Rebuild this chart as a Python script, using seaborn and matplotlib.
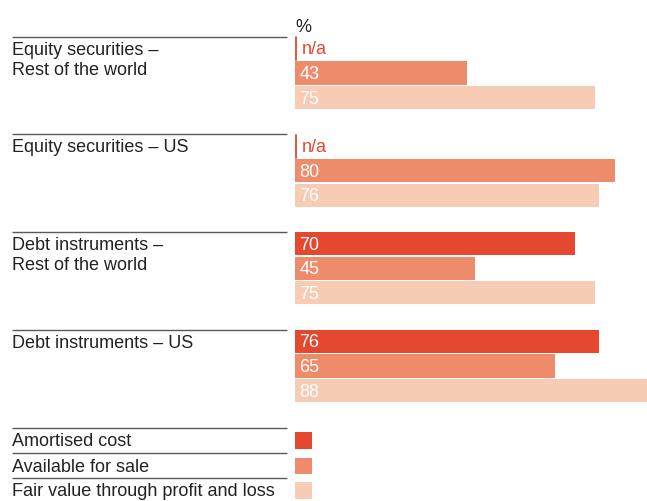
import numpy as np
import pandas as pd
import matplotlib
matplotlib.use("Agg")
import matplotlib.pyplot as plt
import seaborn as sns
from matplotlib.patches import Rectangle

categories = ["Equity securities –\nRest of the world",
              "Equity securities – US",
              "Debt instruments –\nRest of the world",
              "Debt instruments – US"]
series = ["Amortised cost", "Available for sale", "Fair value through profit and loss"]
amortised_cost = [np.nan, np.nan, 70, 76]
available_for_sale = [43, 80, 45, 65]
fair_value_pl = [75, 76, 75, 88]
colors = ["#E5472F", "#EE8B6A", "#F8CBB5"]
unit_label = "%"

sns.set_theme(style="white")
plt.rcParams["font.family"] = ["Liberation Sans", "DejaVu Sans"]

rows = []
for s, vals in zip(series, [amortised_cost, available_for_sale, fair_value_pl]):
    for c, v in zip(categories, vals):
        rows.append({"category": c, "series": s, "value": v})
df = pd.DataFrame(rows)
df["plot_value"] = df["value"].fillna(0)

W, H = 647, 501
fig = plt.figure(figsize=(W / 100, H / 100), dpi=100)
ax = fig.add_axes([0, 0, 1, 1])

width = 0.754
sns.barplot(data=df, y="category", x="plot_value", hue="series",
            order=categories, hue_order=series, palette=colors,
            orient="h", width=width, gap=0.06, saturation=1,
            linewidth=0, legend=False, ax=ax, errorbar=None)

px_x = 4.0            # pixels per data unit along x
x0_px = 295           # pixel of x=0
px_y = 97.67          # pixels per category
y0_px = 73            # pixel of category 0 centre
ax.set_xlim(-x0_px / px_x, (W - x0_px) / px_x)
ax.set_ylim((H - y0_px) / px_y, -y0_px / px_y)
ax.axis("off")

def xd(p):
    return (p - x0_px) / px_x

def yd(p):
    return (p - y0_px) / px_y

text_color = "#222222"
line_color = "#5a5a5a"
fs = 13
n = len(series)
slot = width / n
bar_h = slot * (1 - 0.06)

for i, cat in enumerate(categories):
    # group separator line and label
    ly = i - 0.372
    ax.plot([xd(12), xd(287)], [ly, ly], color=line_color, lw=1.0, solid_capstyle="butt")
    for j, line in enumerate(cat.split("\n")):
        ax.text(xd(12), ly + (18 + 20 * j) / px_y, line, ha="left", va="baseline",
                fontsize=fs, color=text_color)
    for k, s in enumerate(series):
        v = df[(df.category == cat) & (df.series == s)]["value"].iloc[0]
        yc = i - width / 2 + slot * (k + 0.5)
        if np.isnan(v):
            ax.plot([0.15, 0.15], [yc - bar_h / 2, yc + bar_h / 2], color=colors[k], lw=1.3)
            ax.text(xd(301.5), yc + 5.5 / px_y, "n/a", ha="left", va="baseline", fontsize=fs,
                    color=colors[k])
        else:
            ax.text(xd(299.5), yc + 6 / px_y, f"{int(v)}", ha="left", va="baseline",
                    fontsize=fs, color="white")

ax.text(xd(295), yd(31.5), unit_label, ha="left", va="baseline", fontsize=fs, color=text_color)

# legend
legend_lines = [428, 453, 477.5]
legend_boxes = [440.5, 466, 490.5]
for k, s in enumerate(series):
    ly = yd(legend_lines[k])
    ax.plot([xd(12), xd(287)], [ly, ly], color=line_color, lw=1.0, solid_capstyle="butt")
    bc = yd(legend_boxes[k])
    ax.add_patch(Rectangle((0, bc - 8.3 / px_y), 17 / px_x, 16.6 / px_y,
                           facecolor=colors[k], edgecolor="none"))
    ax.text(xd(12), ly + 18.5 / px_y, s, ha="left", va="baseline", fontsize=fs,
            color=text_color)

fig.savefig("out.png", dpi=100)
